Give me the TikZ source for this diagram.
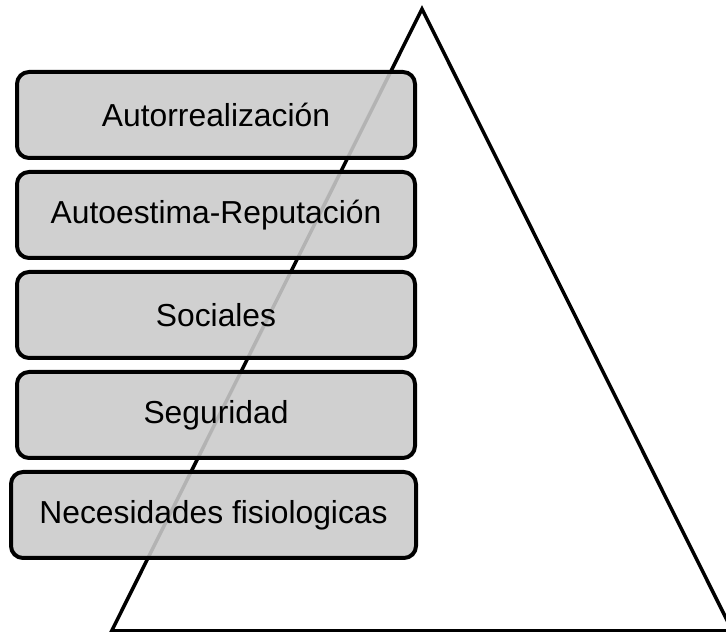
\documentclass[tikz,border=0pt]{standalone}
\usepackage{fontspec}
\setmainfont{Liberation Sans}
\usetikzlibrary{positioning}

\begin{document}
\begin{tikzpicture}[x=1pt,y=1pt,node distance=10pt,level node/.style={rectangle,rounded corners=12pt,draw,line width=4pt,fill={rgb,255:red,202;green,202;blue,202},fill opacity=0.89,text opacity=1,minimum width=398pt,minimum height=86pt,inner sep=0pt,font=\fontsize{31.8}{38}\selectfont}]
  \useasboundingbox (0,0) rectangle (726,632);

  % piramide
  \coordinate (top) at (422,623);
  \coordinate (bl) at (111.6,1);
  \coordinate (br) at (732.4,1);
  \draw[line width=3.5pt] (bl) -- (top) -- (br) -- cycle;

  \node[level node] (1) at (216,517) {Autorrealización};
  \node[level node] (2) [below=of 1] {Autoestima-Reputación};
  \node[level node] (3) [below=of 2] {Sociales};
  \node[level node] (4) [below=of 3] {Seguridad};
  \node[level node,minimum width=405pt] (5) [below=of 4,xshift=-2.5pt] {Necesidades fisiologicas};
\end{tikzpicture}
\end{document}
